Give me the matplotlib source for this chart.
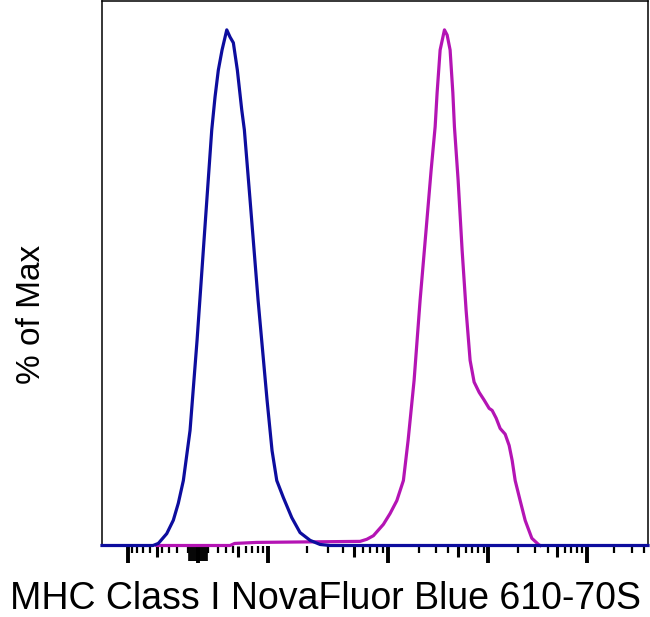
import numpy as np
import matplotlib
matplotlib.use("Agg")
import matplotlib.pyplot as plt
from matplotlib.ticker import NullLocator

# ---- data (x in display channel units 0..996, y in % of max) ----
blue_x = [0, 93.1, 102.7, 118.1, 130.1, 139.2, 148.4, 160.6, 173.4, 186.1, 200.2,
          206.2, 212.2, 219.0, 227.6, 233.6, 239.6, 246.9, 254.9, 259.7, 270.1,
          284.7, 301.1, 310.2, 318.8, 330.8, 346.2, 361.3, 379.6, 397.8, 416.1, 996]
blue_y = [0, 0, 0.4, 2.3, 4.9, 8.2, 12.6, 22.3, 39.8, 59.2, 80.6,
          87.0, 92.2, 96.1, 100, 98.6, 97.5, 92.2, 84.5, 80.6, 67.0,
          47.6, 28.2, 18.4, 12.6, 9.3, 5.4, 2.5, 1.0, 0.2, 0, 0]

magenta_x = [99.8, 233.6, 242.0, 282.3, 470.8, 483.0, 495.1, 513.3, 525.5, 537.8,
             549.8, 558.4, 569.3, 580.3, 591.2, 600.4, 607.7, 611.3, 616.8, 624.7,
             629.6, 635.0, 640.0, 642.9, 649.6, 656.9, 664.2, 671.5, 678.8, 688.0,
             697.1, 706.2, 711.7, 719.0, 726.3, 735.4, 742.7, 748.2, 753.7, 762.8,
             772.0, 784.1, 796.2, 799.3]
magenta_y = [0, 0, 0.4, 0.6, 0.8, 1.2, 1.9, 4.1, 6.2, 8.7,
             12.6, 20.4, 32.0, 47.6, 61.2, 72.8, 81.2, 87.8, 96.1, 100,
             99.0, 96.1, 87.8, 81.2, 70.9, 57.3, 45.6, 35.9, 31.7, 29.7,
             28.2, 26.6, 26.2, 24.7, 22.7, 21.6, 19.4, 16.5, 12.6, 8.7,
             4.85, 1.4, 0.2, 0]

# ---- biexponential axis calibration (value -> channel) ----
axis_values = [-2000, -1000, -500, -100, 0, 100, 500, 1000, 2000, 5000, 1e4, 2e4,
               5e4, 1e5, 2e5, 5e5, 1e6, 2e6, 5e6, 1e7]
axis_channels = [-23.7, 47.4, 100.4, 156.9, 175.2, 193.4, 248.2, 302.9, 374.1,
                 459.9, 521.0, 578.5, 648.7, 704.4, 759.1, 830.3, 884.1, 934.3,
                 1007.3, 1063.9]

major_vals = [-1000, 0, 1000, 1e4, 1e5, 1e6]
medium_vals = [-500, 500, 5000, 5e4, 5e5]
cluster_vals = [v for v in range(-90, 100, 10) if v != 0]
minor_vals = ([-m * 100 for m in (1, 2, 3, 4, 6, 7, 8, 9)] +
              [m * 100 for m in (1, 2, 3, 4, 6, 7, 8, 9)] +
              [m * 1000 for m in (2, 3, 4, 6, 7, 8, 9)] +
              [m * 1e4 for m in (2, 3, 4, 6, 7, 8, 9)] +
              [m * 1e5 for m in (2, 3, 4, 6, 7, 8, 9)] +
              [m * 1e6 for m in (2, 3, 4)])


def fwd(v):
    v = np.asarray(v, dtype=float)
    return np.interp(np.arcsinh(v / 200.0), np.arcsinh(np.array(axis_values) / 200.0),
                     axis_channels)


BLUE = "#0d0d9e"
MAGENTA = "#b414b4"

fig = plt.figure(figsize=(6.5, 6.17), dpi=100)
ax = fig.add_axes([102 / 650, 1 - 545.5 / 617, 546 / 650, 544.5 / 617])

ax.plot(magenta_x, magenta_y, color=MAGENTA, lw=2.3, zorder=3, clip_on=False,
        solid_joinstyle="round")
ax.plot(blue_x, blue_y, color=BLUE, lw=2.3, zorder=4, clip_on=False,
        solid_joinstyle="round")

ax.set_xlim(0, 996)
ax.set_ylim(0, 105.6)
ax.set_yticks([])

for s in ("top", "left", "right"):
    ax.spines[s].set_linewidth(1.1)
    ax.spines[s].set_color("black")
ax.spines["bottom"].set_visible(False)

ax.set_xticks(fwd(major_vals))
ax.set_xticks(fwd(minor_vals), minor=True)
ax.tick_params(axis="x", which="major", length=12, width=2.8, direction="out",
               labelbottom=False, color="black")
ax.tick_params(axis="x", which="minor", length=5, width=1.6, direction="out",
               color="black")

sec = ax.secondary_xaxis("bottom")
sec.set_xticks(fwd(medium_vals))
sec.xaxis.set_minor_locator(NullLocator())
sec.tick_params(axis="x", length=8, width=2.2, direction="out", labelbottom=False)
sec.spines["bottom"].set_visible(False)

sec2 = ax.secondary_xaxis("bottom")
sec2.set_xticks(fwd(cluster_vals))
sec2.xaxis.set_minor_locator(NullLocator())
sec2.tick_params(axis="x", length=10.5, width=1.2, direction="out", labelbottom=False)
sec2.spines["bottom"].set_visible(False)

fig.text(325 / 650, 1 - 609 / 617, "MHC Class I NovaFluor Blue 610-70S",
         ha="center", va="baseline", fontsize=27, family="Liberation Sans")
fig.text(32 / 650, 1 - 314 / 617, "% of Max", rotation=90, ha="center",
         va="center", fontsize=24, family="Liberation Sans")

fig.savefig("out.png", dpi=100)
